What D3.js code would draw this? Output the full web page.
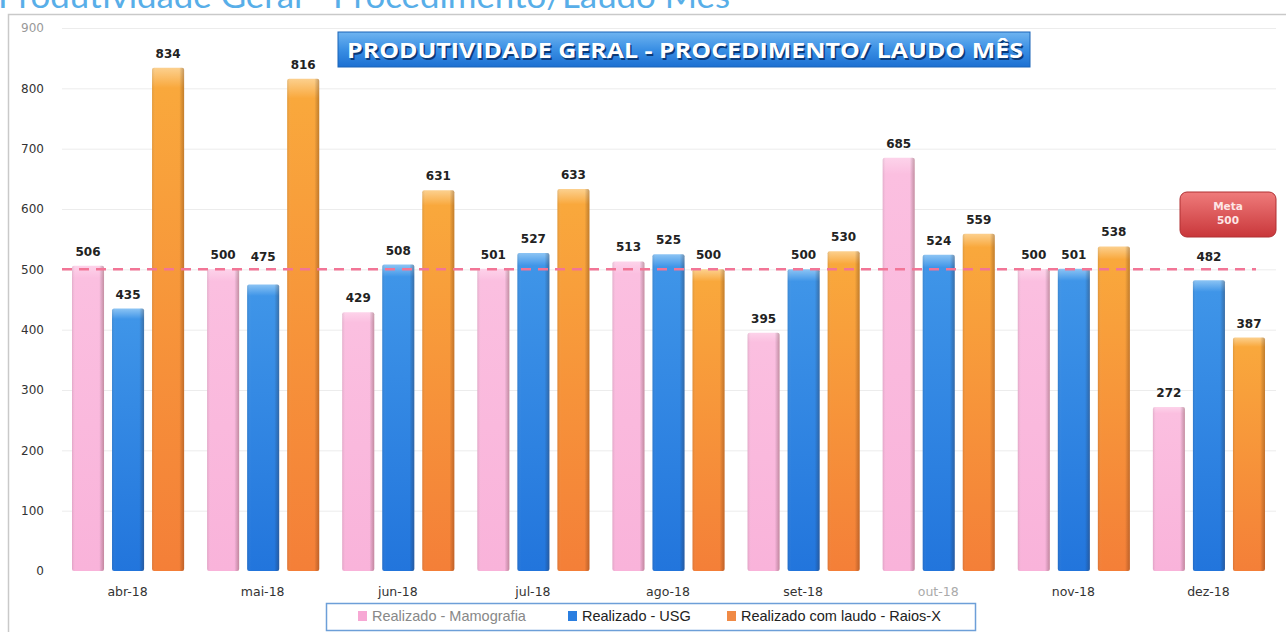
<!DOCTYPE html>
<html>
<head>
<meta charset="utf-8">
<script src="https://cdn.jsdelivr.net/npm/d3@7"></script>
<style>
  body { margin: 0; background: #fff; overflow: hidden; }
  svg { display: block; }
</style>
</head>
<body>
<script>
// data
const months = ['abr-18', 'mai-18', 'jun-18', 'jul-18', 'ago-18', 'set-18', 'out-18', 'nov-18', 'dez-18'];
const mamografia = [506, 500, 429, 501, 513, 395, 685, 500, 272];
const usg = [435, 475, 508, 527, 525, 500, 524, 501, 482];
const raiosX = [834, 816, 631, 633, 500, 530, 559, 538, 387];
const seriesNames = ['Realizado - Mamografia', 'Realizado - USG', 'Realizado com laudo - Raios-X'];
const yTicks = [0, 100, 200, 300, 400, 500, 600, 700, 800, 900];
const meta = 500;

const W = 1286, H = 632;

const svg = d3.select('body').append('svg')
  .attr('width', W)
  .attr('height', H);

const defs = svg.append('defs');
function vGrad(id, stops) {
  const g = defs.append('linearGradient').attr('id', id)
    .attr('x1', 0).attr('y1', 0).attr('x2', 0).attr('y2', 1);
  stops.forEach(s => g.append('stop').attr('offset', s[0]).attr('stop-color', s[1]));
}
function hGrad(id, stops) {
  const g = defs.append('linearGradient').attr('id', id)
    .attr('x1', 0).attr('y1', 0).attr('x2', 1).attr('y2', 0);
  stops.forEach(s => g.append('stop').attr('offset', s[0]).attr('stop-color', s[1]));
}
vGrad('gPink', [[0, '#fdd3ea'], [0.04, '#fbbfe0'], [1, '#f9b3da']]);
vGrad('gBlue', [[0, '#8cc4f4'], [0.04, '#3f95e8'], [1, '#2275dc']]);
vGrad('gOrange', [[0, '#fcd08e'], [0.04, '#f9a83c'], [1, '#f47f38']]);
hGrad('gShade', [[0, 'rgba(0,0,0,0.10)'], [0.12, 'rgba(255,255,255,0)'], [0.85, 'rgba(0,0,0,0)'], [1, 'rgba(60,20,0,0.28)']]);
vGrad('gTitle', [[0, '#6fb4f0'], [0.5, '#3a8fe4'], [1, '#1c70d2']]);
vGrad('gMeta', [[0, '#ef7b7b'], [1, '#c9373a']]);

const fills = ['url(#gPink)', 'url(#gBlue)', 'url(#gOrange)'];
const legendColors = ['#f7a8d4', '#2a7ee0', '#f08a46'];

// page title, cut off at the top like in the screenshot
svg.append('text')
  .attr('x', -2).attr('y', 8)
  .attr('font-family', 'Lato, "Open Sans", sans-serif')
  .attr('font-size', 32)
  .attr('fill', '#58aee8')
  .attr('textLength', 732)
  .attr('lengthAdjust', 'spacingAndGlyphs')
  .text('Produtividade Geral - Procedimento/Laudo Mês');

// chart frame
svg.append('path')
  .attr('d', `M8.5,${H} V14.5 H${W}`)
  .attr('fill', 'none')
  .attr('stroke', '#c9c9c9')
  .attr('stroke-width', 1.5);

const y = d3.scaleLinear().domain([0, 900]).range([571, 28]);
const x0 = d3.scaleBand().domain(months).range([60, 1276]).padding(0);
const x1 = d3.scaleBand().domain(d3.range(3)).range([12, x0.bandwidth() - 11]).paddingInner(0.2);

// gridlines
svg.append('g').selectAll('line')
  .data(yTicks.filter(t => t > 0))
  .join('line')
  .attr('x1', 62).attr('x2', 1276)
  .attr('y1', d => y(d) + 0.5).attr('y2', d => y(d) + 0.5)
  .attr('stroke', '#ececec');

// y axis labels
const yAxis = d3.axisLeft(y).tickValues(yTicks).tickSize(0).tickPadding(0);
const yg = svg.append('g')
  .attr('transform', 'translate(44,0)')
  .call(yAxis);
yg.select('.domain').remove();
yg.selectAll('text')
  .attr('font-family', '"DejaVu Sans", Verdana, sans-serif')
  .attr('font-size', 12)
  .attr('fill', d => d === 900 ? '#999' : '#333');

// x axis labels
const xAxis = d3.axisBottom(x0).tickSize(0).tickPadding(0);
const xg = svg.append('g')
  .attr('transform', 'translate(0,587)')
  .call(xAxis);
xg.select('.domain').remove();
xg.selectAll('text')
  .attr('font-family', '"DejaVu Sans", Verdana, sans-serif')
  .attr('font-size', 12.5)
  .attr('fill', d => d === 'out-18' ? '#aaa' : '#333');

// bars
const rows = months.map((m, i) => ({month: m, values: [mamografia[i], usg[i], raiosX[i]]}));
const groups = svg.append('g').selectAll('g')
  .data(rows)
  .join('g')
  .attr('transform', d => `translate(${x0(d.month)},0)`);

const bars = groups.selectAll('g.bar')
  .data(d => d.values.map((v, s) => ({v, s})))
  .join('g').attr('class', 'bar');

bars.append('rect')
  .attr('x', d => x1(d.s))
  .attr('width', x1.bandwidth())
  .attr('y', d => y(d.v))
  .attr('height', d => y(0) - y(d.v))
  .attr('rx', 2)
  .attr('fill', d => fills[d.s]);
bars.append('rect')
  .attr('x', d => x1(d.s))
  .attr('width', x1.bandwidth())
  .attr('y', d => y(d.v))
  .attr('height', d => y(0) - y(d.v))
  .attr('rx', 2)
  .attr('fill', 'url(#gShade)');

// meta line
svg.append('line')
  .attr('x1', 62).attr('x2', 1256)
  .attr('y1', y(meta)).attr('y2', y(meta))
  .attr('stroke', '#f27596')
  .attr('stroke-width', 2.5)
  .attr('stroke-dasharray', '10,7');

// value labels - pushed above the meta line when they would sit on it
function labelY(v) {
  const ly = y(v) - 10;
  return (ly > y(meta) - 6 && ly < y(meta) + 14) ? y(meta) - 8 : ly;
}
bars.append('text')
  .attr('x', d => x1(d.s) + x1.bandwidth() / 2)
  .attr('y', d => labelY(d.v))
  .attr('text-anchor', 'middle')
  .attr('font-family', '"DejaVu Sans", Verdana, sans-serif')
  .attr('font-weight', 'bold')
  .attr('font-size', 12)
  .attr('fill', '#222')
  .text(d => d.v);

// title box
const tb = svg.append('g');
tb.append('rect')
  .attr('x', 338).attr('y', 32).attr('width', 692).attr('height', 35)
  .attr('fill', 'url(#gTitle)')
  .attr('stroke', '#1b64b8')
  .attr('stroke-width', 1);
[['#0b3a78', 1.5], ['#fff', 0]].forEach(([c, off]) => {
  tb.append('text')
    .attr('x', 347 + off).attr('y', 58 + off)
    .attr('font-family', '"Open Sans", sans-serif')
    .attr('font-weight', 'bold')
    .attr('font-size', 21)
    .attr('fill', c)
    .attr('textLength', 676)
    .attr('lengthAdjust', 'spacingAndGlyphs')
    .text('PRODUTIVIDADE GERAL - PROCEDIMENTO/ LAUDO MÊS');
});

// meta box
const mb = svg.append('g');
mb.append('rect')
  .attr('x', 1180).attr('y', 192).attr('width', 96).attr('height', 45)
  .attr('rx', 7)
  .attr('fill', 'url(#gMeta)')
  .attr('stroke', '#b03033');
mb.selectAll('text')
  .data(['Meta', meta])
  .join('text')
  .attr('x', 1228)
  .attr('y', (d, i) => 210 + i * 14)
  .attr('text-anchor', 'middle')
  .attr('font-family', '"DejaVu Sans", Verdana, sans-serif')
  .attr('font-weight', 'bold')
  .attr('font-size', 10.5)
  .attr('fill', '#fde6e6')
  .text(d => d);

// legend
const lg = svg.append('g');
lg.append('rect')
  .attr('x', 326.5).attr('y', 603.5).attr('width', 649).attr('height', 27)
  .attr('fill', '#fff')
  .attr('stroke', '#6d9fd8')
  .attr('stroke-width', 1.5);
const legendX = [358, 568, 727];
const items = lg.selectAll('g')
  .data(seriesNames)
  .join('g')
  .attr('transform', (d, i) => `translate(${legendX[i]},611)`);
items.append('rect')
  .attr('width', 9).attr('height', 10)
  .attr('fill', (d, i) => legendColors[i]);
items.append('text')
  .attr('x', 14).attr('y', 10)
  .attr('font-family', '"Liberation Sans Narrow", "Arial Narrow", sans-serif')
  .attr('font-size', 14.5)
  .attr('fill', (d, i) => i === 0 ? '#888' : '#222')
  .text(d => d);
</script>
</body>
</html>
